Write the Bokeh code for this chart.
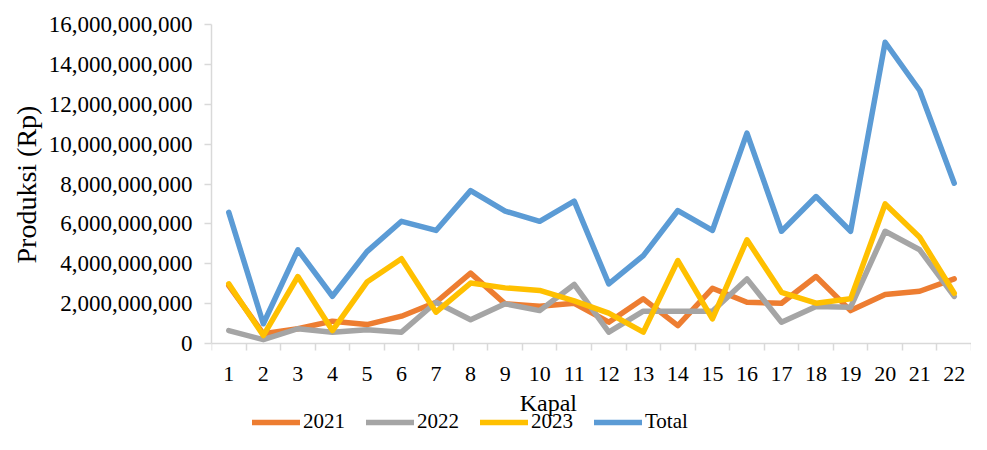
from bokeh.plotting import figure
from bokeh.models import (Range1d, FixedTicker, NumeralTickFormatter, Legend, LegendItem, Label, Title)
from bokeh.embed import file_html
from bokeh.resources import INLINE

kapal = list(range(1, 23))
y2021 = [2.90, 0.49, 0.74, 1.12, 0.95, 1.37, 2.07, 3.53, 1.99, 1.87, 2.02,
         1.07, 2.24, 0.90, 2.77, 2.07, 2.02, 3.36, 1.65, 2.46, 2.62, 3.24]
y2022 = [0.65, 0.19, 0.74, 0.57, 0.69, 0.57, 2.07, 1.19, 1.99, 1.65, 2.96,
         0.57, 1.62, 1.62, 1.62, 3.24, 1.07, 1.86, 1.82, 5.63, 4.70, 2.36]
y2023 = [2.99, 0.40, 3.36, 0.65, 3.08, 4.25, 1.57, 3.03, 2.79, 2.66, 2.14,
         1.52, 0.57, 4.16, 1.24, 5.20, 2.57, 2.02, 2.24, 7.00, 5.33, 2.52]
total = [6.58, 0.99, 4.70, 2.37, 4.61, 6.13, 5.67, 7.67, 6.64, 6.13, 7.14,
         2.99, 4.41, 6.67, 5.67, 10.55, 5.63, 7.37, 5.63, 15.11, 12.69, 8.04]
series_names = ["2021", "2022", "2023", "Total"]
series_values = [y2021, y2022, y2023, total]
colors = ["#ED7D31", "#A5A5A5", "#FFC000", "#5B9BD5"]
y_ticks = [0, 2e9, 4e9, 6e9, 8e9, 10e9, 12e9, 14e9, 16e9]

FONT = "Liberation Serif"
AXIS_COLOR = "#D9D9D9"

# frame extends below the x axis so that the axis title and legend fit in it
p = figure(width=971, height=434, output_backend="svg", toolbar_location=None,
           x_range=Range1d(0.5, 22.5), y_range=Range1d(-4.564e9, 16e9),
           min_border_left=211, min_border_right=0, min_border_top=24,
           min_border_bottom=0)
p.outline_line_color = None
p.xgrid.visible = False
p.ygrid.visible = False

items = []
for name, vals, c in zip(series_names, series_values, colors):
    r = p.line(kapal, [v * 1e9 for v in vals], line_color=c, line_width=5.5,
               line_join="round", line_cap="round")
    items.append(LegendItem(label=name, renderers=[r]))

# x axis (drawn at y = 0)
xa = p.xaxis[0]
xa.fixed_location = 0
xa.ticker = FixedTicker(ticks=kapal, minor_ticks=[k - 0.5 for k in kapal] + [22.5])
xa.axis_line_color = AXIS_COLOR
xa.axis_line_width = 1.5
xa.major_tick_out = 0
xa.major_tick_in = 0
xa.minor_tick_out = 7
xa.minor_tick_in = 0
xa.minor_tick_line_color = AXIS_COLOR
xa.minor_tick_line_width = 1.5
xa.major_label_standoff = 16
xa.major_label_text_font = FONT
xa.major_label_text_font_size = "22px"
xa.major_label_text_color = "#000000"

# y axis
ya = p.yaxis[0]
ya.bounds = (0, 16e9)
ya.ticker = FixedTicker(ticks=y_ticks)
ya.formatter = NumeralTickFormatter(format="0,0")
ya.axis_line_color = AXIS_COLOR
ya.axis_line_width = 1.5
ya.major_tick_out = 7
ya.major_tick_in = 0
ya.major_tick_line_color = AXIS_COLOR
ya.major_tick_line_width = 1.5
ya.minor_tick_line_color = None
ya.major_label_standoff = 12
ya.major_label_text_font = FONT
ya.major_label_text_font_size = "23px"
ya.major_label_text_color = "#000000"

ytitle = Title(text="Produksi (Rp)", align="left", offset=171, text_font=FONT,
               text_font_size="28px", text_font_style="normal",
               text_color="#000000", standoff=8)
p.add_layout(ytitle, "left")

xtitle = Label(x=10.25, y=-2.96e9, text="Kapal", text_align="center",
               text_baseline="middle", text_font=FONT, text_font_size="24px",
               text_color="#000000")
p.add_layout(xtitle)

legend = Legend(items=items, orientation="horizontal", location=(41, 0),
                label_text_font=FONT, label_text_font_size="21px",
                label_text_color="#000000", glyph_width=48, glyph_height=20,
                label_height=20, label_standoff=3, spacing=21, padding=0,
                margin=0, background_fill_alpha=0, border_line_color=None)
p.add_layout(legend, "center")

open("out.html", "w").write(file_html(p, INLINE))
